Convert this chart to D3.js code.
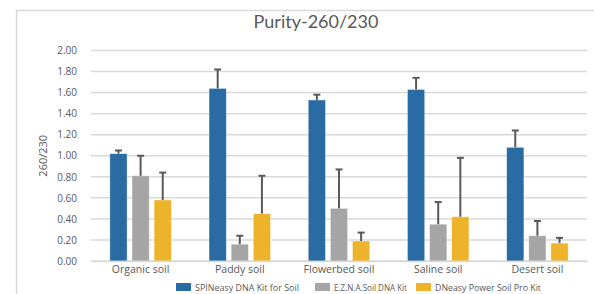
<!DOCTYPE html>
<html><head><meta charset="utf-8">
<script src="https://cdn.jsdelivr.net/npm/d3@7"></script>
<style>html,body{margin:0;padding:0;background:#fff;}</style>
</head><body><svg id="c" width="594" height="294"></svg>
<script>
const categories = ["Organic soil","Paddy soil","Flowerbed soil","Saline soil","Desert soil"];
const seriesNames = ["SPINeasy DNA Kit for Soil","E.Z.N.A.Soil DNA Kit","DNeasy Power Soil Pro Kit"];
const spinValues = [1.02,1.64,1.53,1.63,1.08];
const spinErr    = [0.03,0.18,0.05,0.11,0.16];
const eznaValues = [0.81,0.16,0.50,0.35,0.24];
const eznaErr    = [0.19,0.08,0.37,0.21,0.14];
const dneasyValues = [0.58,0.45,0.19,0.42,0.17];
const dneasyErr    = [0.26,0.36,0.08,0.56,0.05];
const yTicks = [0,0.2,0.4,0.6,0.8,1.0,1.2,1.4,1.6,1.8,2.0];
const colors = ["#2a6ba4","#a5a5a5","#ecb32b"];

const series = [
  {name: seriesNames[0], values: spinValues, err: spinErr},
  {name: seriesNames[1], values: eznaValues, err: eznaErr},
  {name: seriesNames[2], values: dneasyValues, err: dneasyErr}
];

const svg = d3.select("#c");
const font = "'Open Sans', 'Noto Sans', sans-serif";
// frame
svg.append("rect").attr("x",16.5).attr("y",10.5).attr("width",620).attr("height",320)
  .attr("fill","none").attr("stroke","#d9d9d9").attr("stroke-width",1.5);

const pLeft = 91, pRight = 587, pTop = 50.5, pBottom = 261;
const y = d3.scaleLinear().domain([0,2]).range([pBottom, pTop]);
const x0 = d3.scaleBand().domain(categories).range([pLeft,pRight]).paddingInner(0.38).paddingOuter(0.19);
const x1 = d3.scaleBand().domain(d3.range(3)).range([0,x0.bandwidth()]).paddingInner(0.22);

// grid
svg.append("g").selectAll("line").data(yTicks).join("line")
  .attr("x1",pLeft).attr("x2",pRight).attr("y1",d=>y(d)).attr("y2",d=>y(d))
  .attr("stroke","#d9d9d9").attr("stroke-width",1.5);

// y axis labels
const yAxis = d3.axisLeft(y).tickValues(yTicks).tickFormat(d3.format(".2f")).tickSize(0).tickPadding(14);
const ya = svg.append("g").attr("transform",`translate(${pLeft},0)`).call(yAxis);
ya.select(".domain").remove();
ya.selectAll("text").attr("fill","#595959").style("font-family",font).style("font-size","10px");

svg.append("text").attr("transform",`translate(47,${(pTop+pBottom)/2}) rotate(-90)`)
  .attr("text-anchor","middle").attr("fill","#595959").style("font-family",font).style("font-size","11px")
  .text("260/230");

// bars
const groups = svg.append("g").selectAll("g").data(categories).join("g")
  .attr("transform",d=>`translate(${x0(d)},0)`);
groups.each(function(cat, ci){
  const g = d3.select(this);
  series.forEach((s, si) => {
    const v = s.values[ci], e = s.err[ci];
    const bx = x1(si), bw = x1.bandwidth();
    g.append("rect").attr("x",bx).attr("y",y(v)).attr("width",bw).attr("height",y(0)-y(v))
      .attr("fill",colors[si]).attr("stroke","#ffffff").attr("stroke-opacity",0.5).attr("stroke-width",0.8);
    const cx = bx + bw/2;
    g.append("line").attr("x1",cx).attr("x2",cx).attr("y1",y(v)).attr("y2",y(v+e))
      .attr("stroke","#595959").attr("stroke-width",2);
    g.append("line").attr("x1",cx-3.5).attr("x2",cx+3.5).attr("y1",y(v+e)).attr("y2",y(v+e))
      .attr("stroke","#595959").attr("stroke-width",2);
  });
});

// x axis
const xa = svg.append("g").attr("transform",`translate(0,${pBottom})`)
  .call(d3.axisBottom(x0).tickSize(0).tickPadding(5));
xa.select(".domain").attr("stroke","#d9d9d9").attr("stroke-width",1.5);
xa.selectAll("text").attr("fill","#595959").style("font-family",font).style("font-size","10.5px");

// title
svg.append("text").attr("x",316).attr("y",28).attr("text-anchor","middle")
  .attr("fill","#595959").style("font-family","Lato, 'Open Sans', sans-serif").style("font-size","18px")
  .text("Purity-260/230");

// legend
const legX = [176, 315, 416];
const legW = [104, 73, 106];
const leg = svg.append("g").selectAll("g").data(series).join("g")
  .attr("transform",(d,i)=>`translate(${legX[i]},283)`);
leg.append("rect").attr("width",15).attr("height",8).attr("fill",(d,i)=>colors[i]);
leg.append("text").attr("x",19).attr("y",7.5).attr("fill","#595959")
  .style("font-family",font).style("font-size","10px").text(d=>d.name)
  .each(function(d,i){
    const w = this.getComputedTextLength();
    d3.select(this).style("font-size", (10*legW[i]/w).toFixed(2)+"px");
  });
</script></body></html>
